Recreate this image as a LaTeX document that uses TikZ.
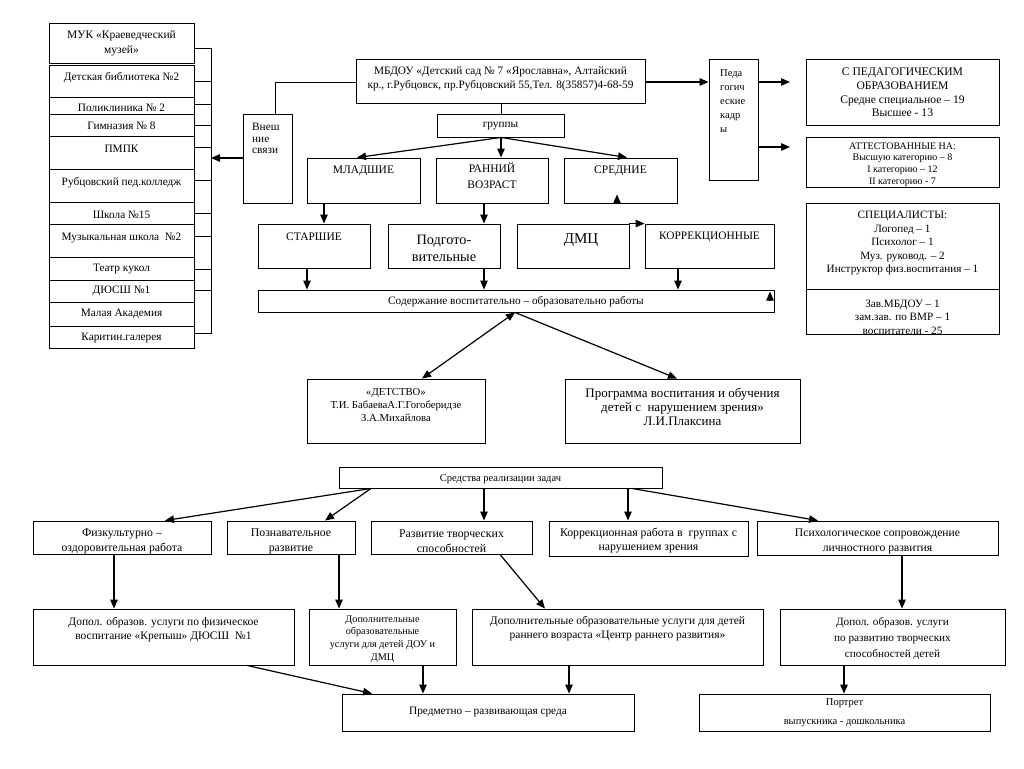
\documentclass[tikz,border=0pt]{standalone}
\usepackage{fontspec}
\setmainfont{Liberation Serif}
\usetikzlibrary{arrows.meta,fit}
\newcommand{\fz}[2]{\fontsize{#1}{#2}\selectfont}
\newcommand{\bxt}[8][]{%
 \node[bx, fit={(#3,#4) (#5,#6)}] (#2) {};
 \node[tx,#1] (#2-t) at ({(#3+#5)/2},#7) {#8};}
\begin{document}
\begin{tikzpicture}[x=1pt,y=-1pt,
  bx/.style={draw, line width=0.9pt, inner sep=0pt},
  tx/.style={inner sep=0pt, align=center, font=\fz{11.3}{14}},
  ln/.style={line width=1pt},
  arr/.style={line width=1.2pt, -{Triangle[length=9pt,width=7.5pt]}},
  darr/.style={line width=1.2pt, {Triangle[length=9pt,width=7.5pt]}-{Triangle[length=9pt,width=7.5pt]}}]
\useasboundingbox[fill=white] (0,0) rectangle (1024,768);

% ---------- left column ----------
\bxt[font=\fz{11.5}{14.5}]{muk}{49}{23}{194}{63}{43.5}{МУК «Краеведческий\\ музей»}
\bxt{lib}{49}{65}{194}{97}{78}{Детская библиотека №2}
\bxt{pol}{49}{97}{194}{114}{108}{Поликлиника № 2}
\bxt{gym}{49}{114}{194}{136}{126}{Гимназия № 8}
\bxt{pmpk}{49}{136}{194}{169}{149}{ПМПК}
\bxt{rub}{49}{169}{194}{202}{183}{Рубцовский пед.колледж}
\bxt{sch}{49}{202}{194}{224}{215}{Школа №15}
\bxt{mus}{49}{224}{194}{257}{238}{Музыкальная школа \ №2}
\bxt{teat}{49}{257}{194}{280}{269}{Театр кукол}
\bxt{dyu}{49}{280}{194}{302}{291}{ДЮСШ №1}
\bxt{mal}{49}{302}{194}{326}{314}{Малая Академия}
\bxt{kar}{49}{326}{194}{348}{338}{Каритин.галерея}

\coordinate (bus) at (211,49);
\coordinate (busb) at (211,333);
\draw[ln] (muk.east |- bus) -- (bus) -- (busb) -- (kar.east |- busb);
\foreach \yy/\nn in {81/lib,104/pol,125/gym,147/pmpk,180/rub,213/sch,236/mus,269/teat,290/dyu}
  \draw[ln] (\nn.east |- 0,\yy) -- (bus |- 0,\yy);

% ---------- Внешние связи ----------
\node[bx, fit={(243,114) (292,203)}] (vn) {};
\node[tx, anchor=west, align=left, font=\fz{11.3}{11.5}] (vn-t) at (252,138.5) {Внеш\\ние\\связи};
\draw[arr] (vn.west |- 0,158) -- (bus |- 0,158);

% ---------- МБДОУ ----------
\bxt{mbdou}{356}{59}{645}{103}{79}{МБДОУ «Детский сад № 7 «Ярославна», Алтайский\\ кр., г.Рубцовск, пр.Рубцовский 55,Тел. 8(35857)4-68-59}
\draw[ln] (vn.north -| 275,0) |- (mbdou.west |- 0,82);

% ---------- Педагогические кадры ----------
\node[bx, fit={(709,59) (758,180)}] (ped) {};
\node[tx, anchor=west, align=left, font=\fz{10.5}{14}] (ped-t) at (720,101) {Педа\\гогич\\еские\\кадр\\ы};
\draw[arr] (mbdou.east |- 0,82) -- (ped.west |- 0,82);
\coordinate (pe1) at (790,82);
\coordinate (pe2) at (790,147);
\draw[arr] (ped.east |- pe1) -- (pe1);
\draw[arr] (ped.east |- pe2) -- (pe2);

% ---------- right column ----------
\bxt[font=\fz{11.6}{13.7}]{obr}{806}{59}{999}{125}{92.5}{С ПЕДАГОГИЧЕСКИМ\\ ОБРАЗОВАНИЕМ\\ Средне специальное – 19\\ Высшее - 13}
\bxt[font=\fz{10}{11.7}]{att}{806}{137}{999}{187}{164.5}{АТТЕСТОВАННЫЕ НА:\\ Высшую категорию – 8\\ I категорию – 12\\ II категорию - 7}
\bxt[font=\fz{11.2}{13.5}]{spec}{806}{203}{999}{289}{243}{СПЕЦИАЛИСТЫ:\\ Логопед – 1\\ Психолог – 1\\ Муз. руковод. – 2\\ Инструктор физ.воспитания – 1}
\bxt[font=\fz{11.2}{13.5}]{zav}{806}{289}{999}{334}{317}{Зав.МБДОУ – 1\\ зам.зав. по ВМР – 1\\ воспитатели - 25}

% ---------- группы ----------
\bxt{grp}{437}{114}{564}{137}{126}{группы}
\draw[ln] (mbdou.south -| 501,0) -- (grp.north -| 501,0);
\bxt[font=\fz{11.5}{16}]{mlad}{307}{158}{420}{203}{171}{МЛАДШИЕ}
\bxt[font=\fz{11.5}{16}]{rann}{436}{158}{548}{203}{176}{РАННИЙ\\ ВОЗРАСТ}
\bxt[font=\fz{11.5}{16}]{sred}{564}{158}{677}{203}{171}{СРЕДНИЕ}
\draw[arr] (grp.south -| 501,0) -- (mlad.north -| 357,0);
\draw[arr] (grp.south -| 501,0) -- (rann.north -| 501,0);
\draw[arr] (grp.south -| 501,0) -- (sred.north -| 627,0);
\draw[arr] (sred.south -| 617,0) -- ++(0,-9);

\bxt[font=\fz{11.5}{16}]{star}{258}{224}{370}{268}{237}{СТАРШИЕ}
\bxt[font=\fz{14.3}{17}]{podg}{388}{224}{500}{268}{248.5}{Подгото-\\ вительные}
\node[bx, fit={(517,224) (629,268)}] (dmc) {};
\node[tx, font=\fz{15}{18}] (dmc-t) at (581,240) {ДМЦ};
\bxt[font=\fz{11.4}{16}]{korr}{645}{224}{774}{268}{237}{КОРРЕКЦИОННЫЕ}
\draw[arr] (mlad.south -| 324,0) -- (star.north -| 324,0);
\draw[arr] (rann.south -| 484,0) -- (podg.north -| 484,0);
\draw[arr] (dmc.north east) -- (korr.north west);

\bxt{sod}{258}{290}{774}{312}{302}{Содержание воспитательно – образовательно работы}
\draw[arr] (star.south -| 307,0) -- (sod.north -| 307,0);
\draw[arr] (podg.south -| 484,0) -- (sod.north -| 484,0);
\draw[arr] (korr.south -| 678,0) -- (sod.north -| 678,0);
\draw[arr] (sod.north -| 770,0) ++(0,11) -- ++(0,-9);

\bxt[font=\fz{10.7}{13}]{det}{307}{379}{485}{443}{405}{«ДЕТСТВО»\\ Т.И. БабаеваА.Г.Гогоберидзе\\ З.А.Михайлова}
\bxt[font=\fz{13}{14}]{prog}{565}{379}{800}{443}{406.5}{Программа воспитания и обучения\\ детей с \ нарушением зрения»\\ Л.И.Плаксина}
\draw[darr] (sod.south -| 515,0) -- (det.north -| 422,0);
\draw[arr] (sod.south -| 515,0) -- (prog.north -| 677,0);

% ---------- bottom part ----------
\bxt[font=\fz{10.5}{13}]{sr}{339}{467}{662}{488}{479}{Средства реализации задач}
\bxt[font=\fz{11.8}{15}]{fiz}{33}{521}{211}{554}{541.5}{Физкультурно –\\ оздоровительная работа}
\bxt[font=\fz{11.8}{15}]{pozn}{227}{521}{355}{554}{541.5}{Познавательное\\ развитие}
\bxt[font=\fz{11.8}{15}]{razv}{371}{521}{532}{554}{541.5}{Развитие творческих\\ способностей}
\bxt[font=\fz{11.8}{14}]{kw}{549}{521}{748}{556}{541}{Коррекционная работа в \ группах с\\ нарушением зрения}
\bxt[font=\fz{11.6}{15}]{psy}{757}{521}{998}{555}{541.5}{Психологическое сопровождение\\ личностного развития}
\draw[arr] (sr.south -| 371,0) -- (fiz.north -| 165,0);
\draw[arr] (sr.south -| 371,0) -- (pozn.north -| 325,0);
\draw[arr] (sr.south -| 484,0) -- (razv.north -| 484,0);
\draw[arr] (sr.south -| 628,0) -- (kw.north -| 628,0);
\draw[arr] (sr.south -| 632,0) -- (psy.north -| 818,0);

\bxt[font=\fz{11.5}{13.5}]{dopf}{33}{609}{294}{665}{629.5}{Допол. образов. услуги по физическое\\ воспитание «Крепыш» ДЮСШ \ №1}
\bxt[font=\fz{10.2}{12.7}]{dop2}{309}{609}{456}{665}{639}{Дополнительные\\ образовательные\\ услуги для детей ДОУ и\\ ДМЦ}
\bxt[font=\fz{11.5}{14}]{centr}{472}{609}{763}{665}{629}{Дополнительные образовательные услуги для детей\\ раннего возраста «Центр раннего развития»}
\bxt[font=\fz{11.2}{16}]{dopr}{780}{609}{1005}{665}{639}{Допол. образов. услуги\\ по развитию творческих\\ способностей детей}
\draw[arr] (fiz.south -| 114,0) -- (dopf.north -| 114,0);
\draw[arr] (pozn.south -| 339,0) -- (dop2.north -| 339,0);
\draw[arr] (razv.south -| 500,0) -- (centr.north -| 545,0);
\draw[arr] (psy.south -| 902,0) -- (dopr.north -| 902,0);

\bxt{pred}{342}{694}{634}{731}{712}{Предметно – развивающая среда}
\bxt[font=\fz{10.5}{19}]{port}{699}{694}{990}{731}{712.5}{Портрет\\ выпускника - дошкольника}
\draw[arr] (dopf.south -| 247,0) -- (pred.north -| 372,0);
\draw[arr] (dop2.south -| 423,0) -- (pred.north -| 423,0);
\draw[arr] (centr.south -| 569,0) -- (pred.north -| 569,0);
\draw[arr] (dopr.south -| 844,0) -- (port.north -| 844,0);
\end{tikzpicture}
\end{document}
